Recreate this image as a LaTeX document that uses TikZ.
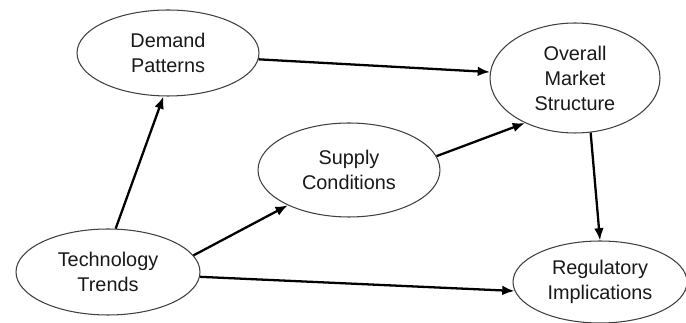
\documentclass[tikz,border=0pt]{standalone}
\usepackage{fontspec}
\setmainfont{Liberation Sans}
\usetikzlibrary{shapes.geometric,arrows.meta}
\begin{document}
\begin{tikzpicture}[x=0.02cm,y=-0.02cm,
  bubble/.style={ellipse,draw=black!75,line width=0.6pt,inner sep=0pt,
    align=center,font=\fontsize{11.3}{14.2}\selectfont,text=black!90},
  link/.style={line width=1.3pt,-{Latex[length=7pt,width=5.5pt]}}]
  \useasboundingbox[fill=white] (0,0) rectangle (686,323);

  % factors
  \node[bubble,minimum width=3.64cm,minimum height=1.72cm] (dem) at (168,53) {Demand\\Patterns};
  \node[bubble,minimum width=3.40cm,minimum height=2.20cm] (mkt) at (575,78) {Overall\\Market\\Structure};
  \node[bubble,minimum width=3.64cm,minimum height=1.88cm] (sup) at (349,170) {Supply\\Conditions};
  \node[bubble,minimum width=3.68cm,minimum height=1.72cm] (tec) at (108,272) {Technology\\Trends};
  \node[bubble,minimum width=3.48cm,minimum height=1.64cm] (reg) at (600,282) {Regulatory\\Implications};

  % influences
  \draw[link] (tec.80.5) -- (dem.-96.5);
  \draw[link] (dem.-4.4) -- (mkt.176);
  \draw[link] (tec.11.3) -- (sup.-150);
  \draw[link] (sup.9.3) -- (mkt.-138.7);
  \draw[link] (mkt.-74.7) -- (reg.90);
  \draw[link] (tec.-3.7) -- (reg.-174);
\end{tikzpicture}
\end{document}
